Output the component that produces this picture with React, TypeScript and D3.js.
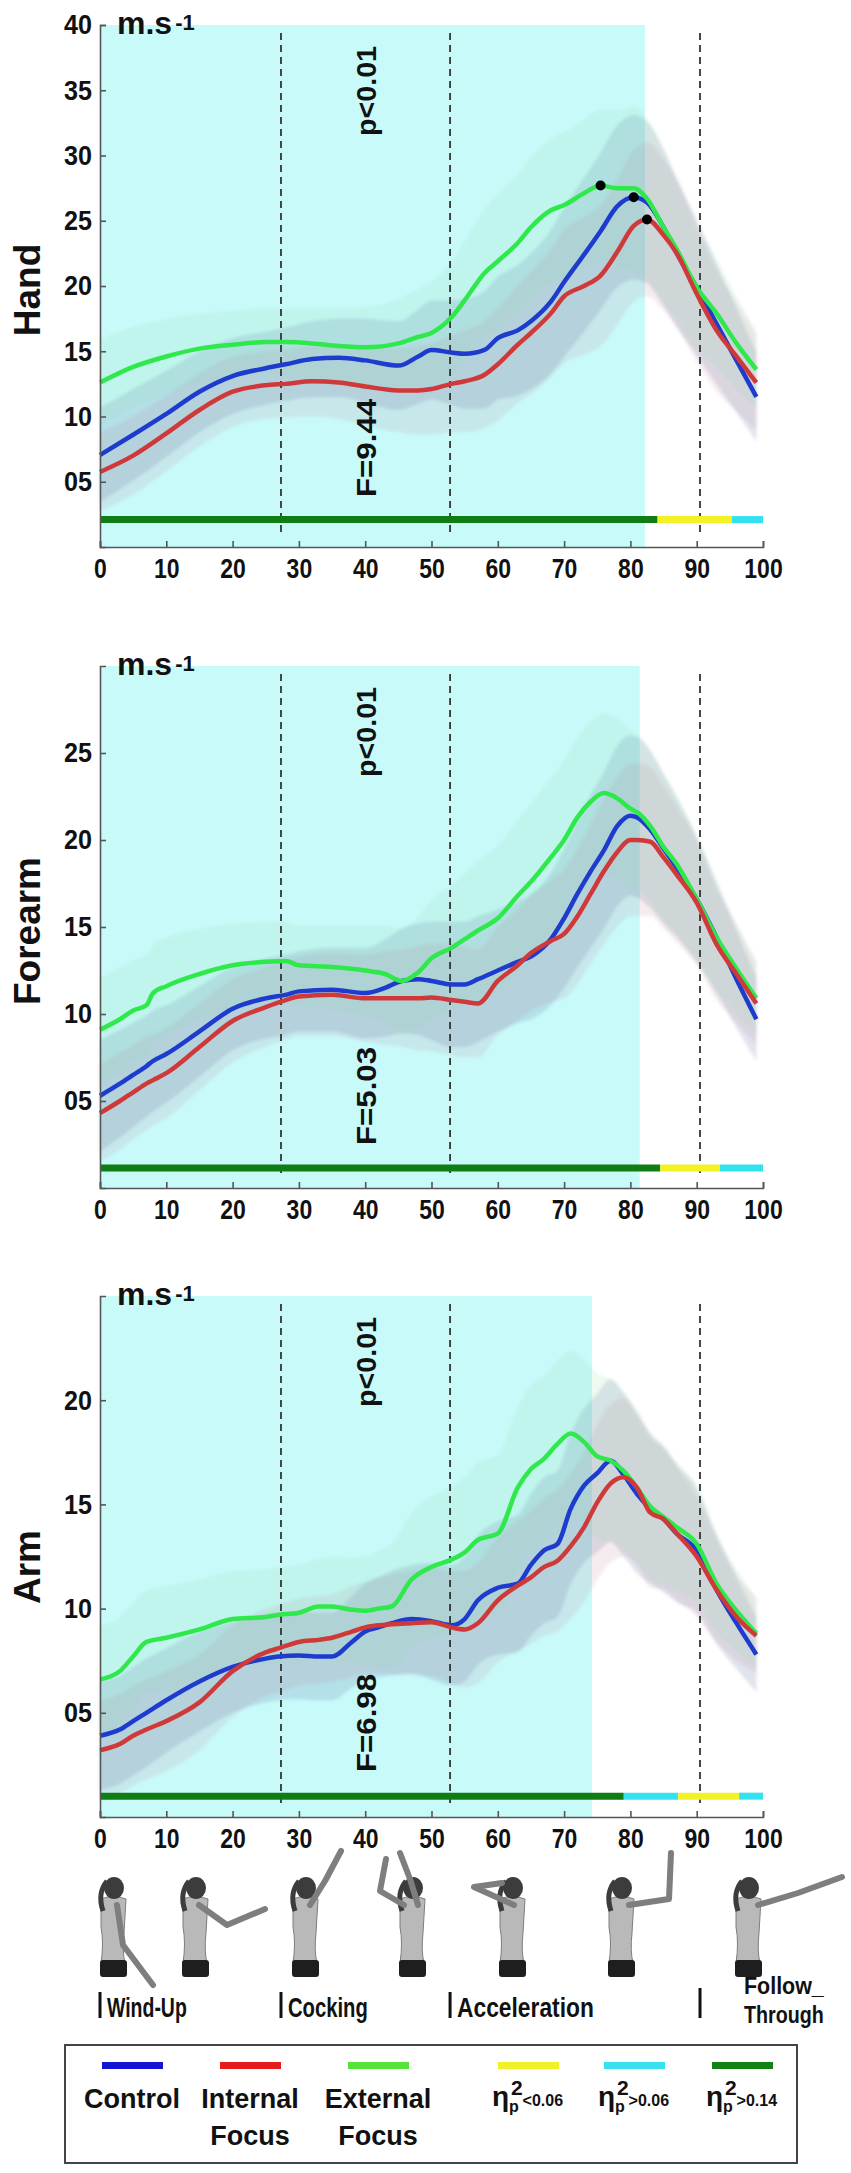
import React, { useRef, useEffect } from 'react';
import * as d3 from 'd3';

// ---------- data ----------
const xTicks = [0, 10, 20, 30, 40, 50, 60, 70, 80, 90, 100];
const phaseBounds = [27.3, 52.8, 90.5];
const phaseNames = ['Wind-Up', 'Cocking', 'Acceleration'];

// Hand
const handX = [0, 5, 10, 15, 20, 25, 28, 32, 36, 40, 45, 48, 50, 53, 55, 58, 60, 63, 65, 68, 70, 73, 75.5, 78, 80.5, 82.5, 85, 87, 90, 93, 96, 99];
const handControl = [7.05, 8.6, 10.2, 11.9, 13.1, 13.7, 14.0, 14.4, 14.5, 14.3, 13.9, 14.6, 15.1, 14.9, 14.8, 15.1, 16.0, 16.6, 17.3, 18.8, 20.3, 22.4, 24.2, 26.1, 26.8, 26.4, 24.5, 22.5, 19.9, 17.1, 14.3, 11.5];
const handInternal = [5.75, 7.0, 8.7, 10.5, 11.9, 12.4, 12.5, 12.7, 12.6, 12.3, 12.0, 12.0, 12.1, 12.5, 12.7, 13.2, 14.0, 15.5, 16.4, 17.9, 19.2, 20.0, 20.8, 22.6, 24.6, 25.1, 23.9, 22.5, 19.4, 16.6, 14.6, 12.6];
const handExternal = [12.6, 13.8, 14.6, 15.2, 15.5, 15.7, 15.7, 15.6, 15.4, 15.3, 15.6, 16.1, 16.4, 17.6, 18.9, 21.0, 21.9, 23.3, 24.5, 25.8, 26.2, 27.1, 27.7, 27.5, 27.5, 26.7, 24.5, 22.8, 19.9, 17.9, 15.6, 13.6];
const handControlSd = [3.6, 3.5, 3.3, 3.1, 2.9, 2.8, 2.8, 2.9, 3.0, 3.2, 3.4, 3.6, 3.8, 4.0, 4.2, 4.5, 4.7, 5.0, 5.2, 5.5, 5.7, 5.9, 6.0, 6.2, 6.3, 6.2, 6.0, 5.7, 5.2, 4.6, 4.0, 3.4];
const handInternalSd = [3.0, 3.0, 2.9, 2.8, 2.7, 2.6, 2.6, 2.7, 2.8, 3.0, 3.2, 3.4, 3.5, 3.7, 3.9, 4.1, 4.3, 4.5, 4.7, 4.9, 5.1, 5.3, 5.4, 5.6, 5.8, 5.9, 5.8, 5.6, 5.2, 4.7, 4.2, 3.7];
const handExternalSd = [3.3, 3.1, 2.9, 2.7, 2.6, 2.6, 2.6, 2.7, 2.9, 3.1, 3.4, 3.7, 4.0, 4.3, 4.6, 4.9, 5.1, 5.3, 5.4, 5.5, 5.6, 5.7, 5.8, 6.0, 6.3, 6.2, 5.8, 5.4, 4.8, 4.2, 3.6, 3.0];
const handTicks = [5, 10, 15, 20, 25, 30, 35, 40];
const handSigBreaks = [0, 84.1, 95.3, 100];
const handSigEffect = ['large', 'small', 'medium'];

// Forearm
const forearmX = [0, 3, 5, 7, 8, 10, 15, 20, 25, 28, 30, 35, 40, 43, 45.5, 48, 50, 53, 55, 57, 60, 63, 65, 68, 70, 72, 74, 76, 78, 80, 81, 83, 85, 87, 90, 93, 96, 99];
const forearmControl = [5.3, 6.0, 6.5, 7.0, 7.3, 7.7, 9.0, 10.3, 10.9, 11.1, 11.3, 11.4, 11.2, 11.5, 11.9, 12.0, 11.9, 11.7, 11.7, 12.0, 12.5, 13.0, 13.3, 14.3, 15.5, 16.9, 18.2, 19.4, 20.8, 21.4, 21.3, 20.6, 19.5, 18.4, 16.6, 14.4, 12.0, 9.7];
const forearmInternal = [4.3, 5.0, 5.5, 6.0, 6.2, 6.6, 8.1, 9.6, 10.4, 10.8, 11.0, 11.1, 10.9, 10.9, 10.9, 10.9, 10.95, 10.8, 10.7, 10.6, 11.9, 12.8, 13.5, 14.2, 14.6, 15.6, 16.9, 18.2, 19.3, 20.0, 20.0, 19.9, 19.0, 18.0, 16.4, 14.0, 12.3, 10.6];
const forearmExternal = [9.1, 9.7, 10.2, 10.5, 11.2, 11.6, 12.3, 12.8, 13.0, 13.05, 12.8, 12.7, 12.5, 12.3, 11.9, 12.4, 13.2, 13.8, 14.3, 14.8, 15.5, 16.8, 17.6, 19.0, 20.0, 21.3, 22.2, 22.7, 22.4, 21.8, 21.6, 20.8, 19.6, 18.6, 16.6, 14.4, 12.6, 10.9];
const forearmControlSd = [3.2, 3.1, 3.0, 2.9, 2.9, 2.8, 2.6, 2.4, 2.3, 2.3, 2.3, 2.4, 2.6, 2.8, 3.0, 3.2, 3.4, 3.6, 3.6, 3.6, 3.5, 3.5, 3.6, 3.8, 4.0, 4.2, 4.4, 4.5, 4.6, 4.6, 4.6, 4.5, 4.3, 4.0, 3.6, 3.2, 2.8, 2.4];
const forearmInternalSd = [2.8, 2.8, 2.7, 2.7, 2.6, 2.6, 2.5, 2.4, 2.3, 2.3, 2.3, 2.4, 2.5, 2.7, 2.8, 3.0, 3.1, 3.2, 3.2, 3.1, 3.1, 3.2, 3.3, 3.5, 3.7, 3.9, 4.0, 4.2, 4.3, 4.4, 4.4, 4.3, 4.1, 3.9, 3.6, 3.2, 2.8, 2.4];
const forearmExternalSd = [3.0, 3.0, 2.9, 2.9, 2.8, 2.8, 2.6, 2.4, 2.3, 2.3, 2.3, 2.4, 2.6, 2.8, 3.0, 3.2, 3.4, 3.6, 3.8, 4.0, 4.2, 4.4, 4.5, 4.6, 4.6, 4.6, 4.6, 4.6, 4.6, 4.6, 4.5, 4.4, 4.2, 4.0, 3.6, 3.1, 2.6, 2.1];
const forearmTicks = [5, 10, 15, 20, 25];
const forearmSigBreaks = [0, 84.5, 93.5, 100];
const forearmSigEffect = ['large', 'small', 'medium'];

// Arm
const armX = [0, 3, 5, 7, 10, 15, 20, 25, 27, 30, 33, 35, 38, 40, 42, 44, 47, 50, 53, 55, 57, 60, 63, 65, 67, 69, 71, 73, 75, 77, 79, 81, 83, 85, 87, 90, 93, 96, 99];
const armControl = [3.9, 4.2, 4.6, 5.0, 5.6, 6.5, 7.2, 7.6, 7.7, 7.75, 7.7, 7.7, 8.4, 8.9, 9.1, 9.3, 9.5, 9.4, 9.2, 9.5, 10.4, 11.0, 11.2, 12.1, 12.8, 13.1, 14.8, 15.9, 16.5, 17.1, 16.4, 15.5, 14.8, 14.3, 13.6, 12.8, 10.9, 9.3, 7.8];
const armInternal = [3.2, 3.5, 3.9, 4.2, 4.6, 5.5, 7.0, 7.9, 8.1, 8.4, 8.5, 8.6, 8.9, 9.1, 9.2, 9.25, 9.3, 9.35, 9.1, 9.0, 9.3, 10.4, 11.1, 11.5, 12.0, 12.3, 13.0, 13.9, 15.1, 16.0, 16.3, 15.8, 14.6, 14.3, 13.6, 12.5, 10.9, 9.6, 8.7];
const armExternal = [6.6, 7.0, 7.7, 8.4, 8.6, 9.0, 9.5, 9.6, 9.7, 9.8, 10.1, 10.1, 9.95, 9.9, 10.0, 10.1, 11.4, 12.0, 12.35, 12.7, 13.3, 13.6, 15.8, 16.7, 17.2, 17.9, 18.4, 18.0, 17.3, 17.1, 16.6, 15.8, 14.9, 14.4, 13.9, 13.1, 11.2, 9.9, 8.8];
const armControlSd = [2.6, 2.6, 2.6, 2.6, 2.5, 2.4, 2.2, 2.1, 2.1, 2.1, 2.1, 2.1, 2.2, 2.3, 2.4, 2.5, 2.6, 2.8, 2.9, 3.0, 3.1, 3.2, 3.3, 3.4, 3.5, 3.5, 3.6, 3.7, 3.8, 3.9, 3.9, 3.8, 3.6, 3.5, 3.3, 3.0, 2.6, 2.2, 1.8];
const armInternalSd = [2.4, 2.4, 2.4, 2.4, 2.4, 2.3, 2.2, 2.1, 2.1, 2.1, 2.1, 2.1, 2.2, 2.2, 2.3, 2.4, 2.5, 2.6, 2.7, 2.8, 2.9, 3.0, 3.1, 3.2, 3.3, 3.4, 3.5, 3.6, 3.7, 3.8, 3.8, 3.7, 3.6, 3.4, 3.2, 2.9, 2.5, 2.1, 1.8];
const armExternalSd = [2.6, 2.6, 2.6, 2.5, 2.5, 2.4, 2.3, 2.3, 2.3, 2.3, 2.3, 2.4, 2.5, 2.6, 2.8, 3.0, 3.2, 3.4, 3.5, 3.6, 3.7, 3.8, 3.9, 4.0, 4.0, 4.0, 4.0, 4.0, 4.0, 3.9, 3.8, 3.7, 3.5, 3.3, 3.1, 2.8, 2.4, 2.0, 1.7];
const armTicks = [5, 10, 15, 20];
const armSigBreaks = [0, 79.0, 87.2, 96.4, 100];
const armSigEffect = ['large', 'medium', 'small', 'medium'];

// ---------- styling ----------
const FONT = "'Liberation Sans', Arial, sans-serif";
const CYAN_BG = '#c9fafa';
const effectColor: Record<string, string> = { small: '#f4f227', medium: '#33e2ef', large: '#0f7d14' };
const seriesStyle = {
  control: { line: '#1d3cce', band: 'rgba(80, 95, 150, 0.17)' },
  internal: { line: '#d0393a', band: 'rgba(175, 110, 130, 0.13)' },
  external: { line: '#2fe84b', band: 'rgba(150, 220, 175, 0.16)' }
};

const panels = [
  {
    title: 'Hand', top: 25, bottom: 547, yMax: 40, ticks: handTicks, xs: handX,
    control: handControl, internal: handInternal, external: handExternal,
    controlSd: handControlSd, internalSd: handInternalSd, externalSd: handExternalSd,
    shadeEnd: 82.2, sigLevel: 2.1, sigBreaks: handSigBreaks, sigEffect: handSigEffect,
    stat: 'F=9.44', statBottom: 497, titleY: 290, peaks: true
  },
  {
    title: 'Forearm', top: 666, bottom: 1188, yMax: 30, ticks: forearmTicks, xs: forearmX,
    control: forearmControl, internal: forearmInternal, external: forearmExternal,
    controlSd: forearmControlSd, internalSd: forearmInternalSd, externalSd: forearmExternalSd,
    shadeEnd: 81.4, sigLevel: 1.15, sigBreaks: forearmSigBreaks, sigEffect: forearmSigEffect,
    stat: 'F=5.03', statBottom: 1145, titleY: 931, peaks: false
  },
  {
    title: 'Arm', top: 1296, bottom: 1817, yMax: 25, ticks: armTicks, xs: armX,
    control: armControl, internal: armInternal, external: armExternal,
    controlSd: armControlSd, internalSd: armInternalSd, externalSd: armExternalSd,
    shadeEnd: 74.2, sigLevel: 1.0, sigBreaks: armSigBreaks, sigEffect: armSigEffect,
    stat: 'F=6.98', statBottom: 1772, titleY: 1567, peaks: false
  }
];

// thrower silhouettes under the x axis (decorative)
const figures = [
  { cx: 113, arms: [[[4, 2], [10, 42], [40, 82]]] },
  { cx: 195, arms: [[[4, 2], [32, 22], [70, 6]]] },
  { cx: 305, arms: [[[5, 2], [20, -22], [36, -52]]] },
  { cx: 412, arms: [[[-8, 2], [-32, -12], [-26, -44]], [[6, 2], [-2, -24], [-12, -50]]] },
  { cx: 512, arms: [[[2, 2], [-38, -16], [-10, -20]]] },
  { cx: 621, arms: [[[8, 2], [48, -4], [50, -50]]] },
  { cx: 748, arms: [[[10, 2], [50, -10], [94, -26]]] }
];

const legendItems = [
  { label: ['Control'], color: '#1414d2', cx: 132 },
  { label: ['Internal', 'Focus'], color: '#e41c1c', cx: 250 },
  { label: ['External', 'Focus'], color: '#55e33a', cx: 378 }
];
const legendEffects = [
  { key: 'small', text: '<0.06', color: '#f1f12a', cx: 528 },
  { key: 'medium', text: '>0.06', color: '#37e0ef', cx: 634 },
  { key: 'large', text: '>0.14', color: '#128012', cx: 742 }
];

// squeeze a bold label to the condensed width seen in the figure
function condense(sel: any, perChar: number) {
  sel.each(function (this: SVGTextElement) {
    const n = (this.textContent || '').length;
    d3.select(this).attr('textLength', n * perChar).attr('lengthAdjust', 'spacingAndGlyphs');
  });
}

function drawPanel(svg: any, p: any, x: any) {
  const y = d3.scaleLinear().domain([0, p.yMax]).range([p.bottom, p.top]);
  const g = svg.append('g');

  // significant region
  g.append('rect')
    .attr('x', x(0))
    .attr('y', p.top)
    .attr('width', x(p.shadeEnd) - x(0))
    .attr('height', p.bottom - p.top)
    .attr('fill', CYAN_BG);

  const keys = ['control', 'internal', 'external'];

  // SD bands
  keys.forEach(k => {
    const rows = p.xs.map((xv: number, i: number) => ({ x: xv, m: p[k][i], sd: p[k + 'Sd'][i] }));
    const area = d3.area<any>()
      .x(d => x(d.x))
      .y0(d => y(d.m - d.sd))
      .y1(d => y(d.m + d.sd))
      .curve(d3.curveMonotoneX);
    g.append('path')
      .datum(rows)
      .attr('d', area)
      .attr('fill', (seriesStyle as any)[k].band)
      .attr('filter', 'url(#soft)');
  });

  // phase boundaries
  g.selectAll('.phase')
    .data(phaseBounds)
    .enter()
    .append('line')
    .attr('x1', d => x(d))
    .attr('x2', d => x(d))
    .attr('y1', p.top + 8)
    .attr('y2', p.bottom - 11)
    .attr('stroke', '#333')
    .attr('stroke-width', 1.8)
    .attr('stroke-dasharray', '7,5');

  // effect size bar
  const segs = p.sigEffect.map((e: string, i: number) => ({ from: p.sigBreaks[i], to: p.sigBreaks[i + 1], e }));
  g.selectAll('.sig')
    .data(segs)
    .enter()
    .append('line')
    .attr('x1', (d: any) => x(d.from))
    .attr('x2', (d: any) => x(d.to))
    .attr('y1', y(p.sigLevel))
    .attr('y2', y(p.sigLevel))
    .attr('stroke', (d: any) => effectColor[d.e])
    .attr('stroke-width', 7);

  // mean curves
  ['control', 'external', 'internal'].forEach(k => {
    const line = d3.line<number>()
      .x((d, i) => x(p.xs[i]))
      .y(d => y(d))
      .curve(d3.curveMonotoneX);
    g.append('path')
      .datum(p[k])
      .attr('d', line)
      .attr('fill', 'none')
      .attr('stroke', (seriesStyle as any)[k].line)
      .attr('stroke-width', 4.5)
      .attr('stroke-linejoin', 'round');
  });

  // peak markers
  if (p.peaks) {
    keys.forEach(k => {
      const i = d3.maxIndex(p[k] as number[]);
      g.append('circle')
        .attr('cx', x(p.xs[i]))
        .attr('cy', y(p[k][i]))
        .attr('r', 5)
        .attr('fill', '#000');
    });
  }

  // axes
  const xAxis = d3.axisBottom(x)
    .tickValues(xTicks)
    .tickSize(-6)
    .tickSizeOuter(-6)
    .tickPadding(11);
  const gx = g.append('g')
    .attr('transform', `translate(0,${p.bottom})`)
    .call(xAxis);

  const yAxis = d3.axisLeft(y)
    .tickValues(p.ticks)
    .tickSize(-6)
    .tickSizeOuter(-6)
    .tickPadding(8)
    .tickFormat((d: any) => (d < 10 ? '0' + d : String(d)));
  const gy = g.append('g')
    .attr('transform', `translate(${x(0)},0)`)
    .call(yAxis);

  [gx, gy].forEach(a => {
    a.attr('font-family', FONT).attr('font-size', 28).attr('font-weight', 'bold').attr('color', '#111');
    a.select('.domain').attr('stroke', '#555').attr('stroke-width', 1.6);
    a.selectAll('.tick line').attr('stroke', '#555').attr('stroke-width', 1.6);
  });
  condense(gx.selectAll('.tick text'), 12.8);
  condense(gy.selectAll('.tick text'), 14);

  // unit
  const unit = g.append('text')
    .attr('x', 117)
    .attr('y', p.top + 9)
    .attr('font-family', FONT)
    .attr('font-weight', 'bold')
    .attr('font-size', 32)
    .attr('fill', '#111');
  unit.append('tspan').text('m.s');
  unit.append('tspan').attr('dx', 3).attr('dy', -4).attr('font-size', 22).text('-1');

  // body segment title
  g.append('text')
    .attr('transform', `translate(40,${p.titleY}) rotate(-90)`)
    .attr('text-anchor', 'middle')
    .attr('font-family', FONT)
    .attr('font-weight', 'bold')
    .attr('font-size', 37)
    .attr('fill', '#111')
    .text(p.title);

  // statistics
  g.append('text')
    .attr('transform', `translate(376,${p.top + 111}) rotate(-90)`)
    .attr('font-family', FONT)
    .attr('font-weight', 'bold')
    .attr('font-size', 27)
    .attr('textLength', 90)
    .attr('lengthAdjust', 'spacingAndGlyphs')
    .attr('fill', '#111')
    .text('p<0.01');
  g.append('text')
    .attr('transform', `translate(376,${p.statBottom}) rotate(-90)`)
    .attr('font-family', FONT)
    .attr('font-weight', 'bold')
    .attr('font-size', 27)
    .attr('textLength', 98)
    .attr('lengthAdjust', 'spacingAndGlyphs')
    .attr('fill', '#111')
    .text(p.stat);
}

function drawFigures(svg: any) {
  const g = svg.append('g');
  figures.forEach(f => {
    const fg = g.append('g').attr('transform', `translate(${f.cx},1903)`);
    // torso
    fg.append('path')
      .attr('d', 'M-12,-4 Q0,-9 13,-4 L11,30 Q9,48 12,60 L-12,60 Q-9,40 -12,24 Z')
      .attr('fill', '#b9b9b9').attr('stroke', '#7d7d7d').attr('stroke-width', 1);
    // shorts
    fg.append('rect').attr('x', -13).attr('y', 57).attr('width', 27).attr('height', 17).attr('rx', 3).attr('fill', '#1e1e1e');
    // head + ponytail
    fg.append('ellipse').attr('cx', 1).attr('cy', -15).attr('rx', 10).attr('ry', 11).attr('fill', '#3c3c3c');
    fg.append('path').attr('d', 'M-6,-22 Q-16,-10 -10,8').attr('stroke', '#3c3c3c').attr('stroke-width', 5).attr('fill', 'none');
    // arms
    f.arms.forEach(a => {
      fg.append('path')
        .attr('d', d3.line()(a as [number, number][]))
        .attr('fill', 'none')
        .attr('stroke', '#7e7e7e')
        .attr('stroke-width', 6)
        .attr('stroke-linecap', 'round')
        .attr('stroke-linejoin', 'round');
    });
  });
}

function drawPhases(svg: any, x: any) {
  const g = svg.append('g')
    .attr('font-family', FONT)
    .attr('font-weight', 'bold')
    .attr('font-size', 27)
    .attr('fill', '#111');
  const starts = [0, ...phaseBounds.slice(0, 2)];
  starts.forEach((s, i) => {
    g.append('line').attr('x1', x(s)).attr('x2', x(s)).attr('y1', 1992).attr('y2', 2018)
      .attr('stroke', '#111').attr('stroke-width', 3);
    g.append('text').attr('x', x(s) + 7).attr('y', 2017).text(phaseNames[i]);
  });
  const last = phaseBounds[2];
  g.append('line').attr('x1', x(last)).attr('x2', x(last)).attr('y1', 1988).attr('y2', 2018)
    .attr('stroke', '#111').attr('stroke-width', 3);
  g.append('text').attr('x', 744).attr('y', 1994).attr('font-size', 24).text('Follow_');
  g.append('text').attr('x', 744).attr('y', 2023).attr('font-size', 24).text('Through');
  condense(g.selectAll('text'), 11.4);
}

function drawLegend(svg: any) {
  const g = svg.append('g');
  g.append('rect').attr('x', 65).attr('y', 2045).attr('width', 732).attr('height', 118)
    .attr('fill', '#fff').attr('stroke', '#444').attr('stroke-width', 2);

  legendItems.forEach(it => {
    g.append('rect').attr('x', it.cx - 30).attr('y', 2062).attr('width', 61).attr('height', 7).attr('fill', it.color);
    it.label.forEach((t, j) => {
      g.append('text').attr('x', it.cx).attr('y', 2108 + j * 37)
        .attr('text-anchor', 'middle')
        .attr('font-family', FONT).attr('font-weight', 'bold').attr('font-size', 27).attr('fill', '#111')
        .text(t);
    });
  });

  legendEffects.forEach(it => {
    g.append('rect').attr('x', it.cx - 30).attr('y', 2062).attr('width', 61).attr('height', 7).attr('fill', it.color);
    const t = g.append('text').attr('x', it.cx - 36).attr('y', 2106)
      .attr('font-family', FONT).attr('font-weight', 'bold').attr('fill', '#111');
    t.append('tspan').attr('font-size', 28).text('η');
    t.append('tspan').attr('font-size', 16).attr('dy', 6).text('p');
    t.append('tspan').attr('font-size', 21).attr('dx', -8).attr('dy', -17).text('2');
    t.append('tspan').attr('font-size', 16).attr('dy', 11).text(it.text);
  });
}

export default function App() {
  const svgRef = useRef<SVGSVGElement>(null);

  useEffect(() => {
    const svg = d3.select(svgRef.current);
    svg.selectAll('*').remove();

    const defs = svg.append('defs');
    defs.append('filter').attr('id', 'soft')
      .append('feGaussianBlur').attr('stdDeviation', 1.5);

    svg.append('rect').attr('width', 851).attr('height', 2173).attr('fill', '#fff');

    const x = d3.scaleLinear().domain([0, 100]).range([100, 763]);

    panels.forEach(p => drawPanel(svg, p, x));
    drawFigures(svg);
    drawPhases(svg, x);
    drawLegend(svg);
  }, []);

  return (
    <svg
      ref={svgRef}
      width={851}
      height={2173}
      style={{ position: 'absolute', left: 0, top: 0 }}
    />
  );
}
